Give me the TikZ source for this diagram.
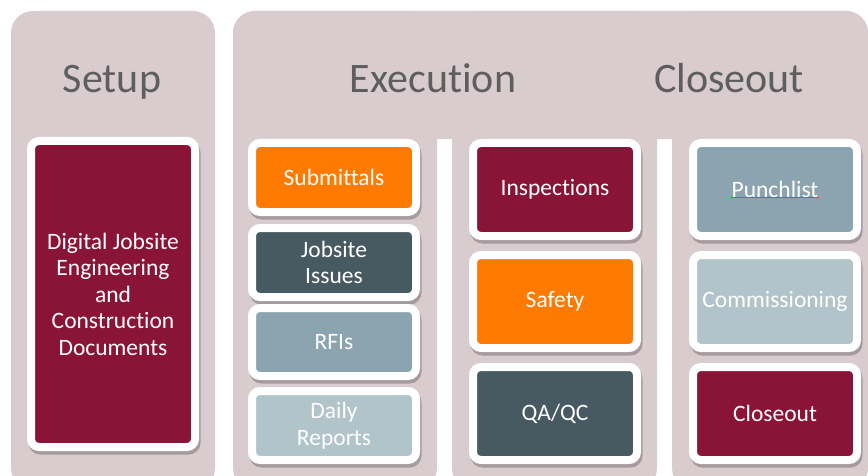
\documentclass[tikz,border=0pt]{standalone}
\usepackage{fontspec}
\setmainfont{Carlito}[Ligatures={NoCommon}]
\definecolor{mauve}{HTML}{D9CCCF}
\definecolor{maroon}{HTML}{8A1438}
\definecolor{orangec}{HTML}{FF7A00}
\definecolor{slate}{HTML}{475961}
\definecolor{bluegrey}{HTML}{8BA4AF}
\definecolor{lightgrey}{HTML}{B0C4CA}
\definecolor{headgrey}{HTML}{5E5E5E}
\definecolor{shadowc}{HTML}{A59A9D}
\tikzset{
  panel/.style={fill=mauve, rounded corners=22pt},
  head/.style={font=\fontsize{42}{46}\selectfont, text=headgrey, anchor=base, inner sep=0pt},
  card/.style={rounded corners=8pt, draw=white, line width=8pt, fill=#1, text=white,
    font=\fontsize{23.5}{26.5}\selectfont, align=center, inner sep=0pt, minimum width=164pt,
    preaction={draw=shadowc, fill=shadowc, line width=8pt, transform canvas={xshift=1.5pt, yshift=-3.5pt}}},
}
\begin{document}
\begin{tikzpicture}[x=1pt, y=-1pt]
\useasboundingbox (0,0) rectangle (868,476);
\clip (0,0) rectangle (868,476);
\fill[white] (0,0) rectangle (868,476);
% panels
\fill[panel] (11,11) rectangle (215,490);
\fill[panel] (233,11) rectangle (437,490);
\fill[panel] (452,11) rectangle (657,490);
\fill[panel] (672,11) rectangle (868,490);
\fill[panel] (233,11) rectangle (868,139);
% headings
\node[head] (hsetup) at (112,93) {Setup};
\node[head] (hexec) at (433,93) {Execution};
\node[head] (hclose) at (729,93) {Closeout};
% setup card
\node[card=maroon, minimum height=306pt] (docs) at (113,294)
  {Digital Jobsite\\Engineering\\and\\Construction\\Documents};
% execution column 1
\node[card=orangec, minimum height=69pt] (subm) at (334,177.5) {Submittals};
\node[card=slate, minimum height=69pt] (jobs) at (334,262.5) {Jobsite\\Issues};
\node[card=bluegrey, minimum height=68pt] (rfis) at (334,342) {RFIs};
\node[card=lightgrey, minimum height=69pt] (daily) at (334,425.5) {Daily\\Reports};
% execution column 2
\node[card=maroon, minimum height=93pt] (insp) at (555,189.5) {Inspections};
\node[card=orangec, minimum height=93pt] (safe) at (555,301.5) {Safety};
\node[card=slate, minimum height=93pt] (qaqc) at (555,413.5) {QA/QC};
% closeout column
\node[card=bluegrey, minimum height=93pt] (punch) at (775,189.5) {Punchlist};
\node[card=lightgrey, minimum height=93pt] (comm) at (775,301.5) {Commissioning};
\node[card=maroon, minimum height=93pt] (close) at (775,413.5) {Closeout};
\draw[red!80, line width=0.4pt] (731,197.5) -- (819,197.5);
\end{tikzpicture}
\end{document}
